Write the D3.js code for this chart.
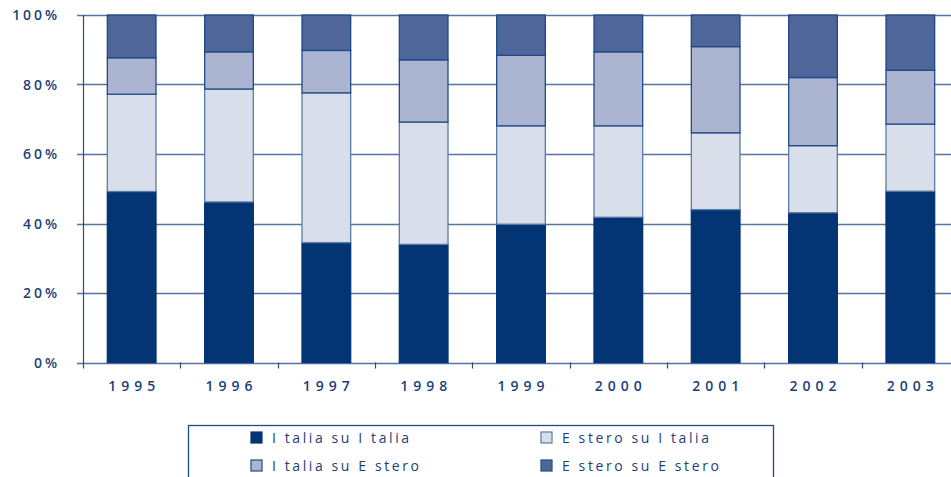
<!DOCTYPE html>
<html>
<head>
<meta charset="utf-8">
<script src="https://cdn.jsdelivr.net/npm/d3@7"></script>
<style>
  html, body { margin: 0; padding: 0; background: #fff; }
  svg { display: block; }
  text { font-family: "Open Sans", "Noto Sans", sans-serif; fill: #1d3f78; }
</style>
</head>
<body>
<svg id="chart" width="951" height="477"></svg>
<script>
// ---- data ----
const years = ["1995", "1996", "1997", "1998", "1999", "2000", "2001", "2002", "2003"];
const seriesNames = ["Italia su Italia", "Estero su Italia", "Italia su Estero", "Estero su Estero"];
const legendLabels = ["I talia su I talia", "E stero su I talia", "I talia su E stero", "E stero su E stero"];
const italiaSuItalia = [49.2, 46.2, 34.5, 34.0, 39.8, 41.8, 44.0, 43.1, 49.3];
const esteroSuItalia = [28.0, 32.5, 43.1, 35.2, 28.3, 26.3, 22.1, 19.3, 19.3];
const italiaSuEstero = [10.5, 10.7, 12.2, 17.9, 20.3, 21.3, 24.8, 19.6, 15.5];
const esteroSuEstero = [12.3, 10.6, 10.2, 12.9, 11.6, 10.6, 9.1, 18.0, 15.9];
const yTicks = [0, 20, 40, 60, 80, 100];
const yTickLabels = ["0%", "20%", "40%", "60%", "80%", "100%"];

const colors = ["#033574", "#d9dfea", "#abb5d2", "#4e6699"];
const strokeColors = ["#033574", "#5b7aa6", "#1f4a87", "#1f4a87"];

const svg = d3.select("#chart");
const x0 = 83, x1 = 959, yTop = 15, yBot = 362.5;

const x = d3.scaleBand().domain(years).range([x0, x1]).paddingInner(0.5).paddingOuter(0.25);
const xEdges = d3.scalePoint().domain(d3.range(years.length + 1)).range([x0, x1]);
const y = d3.scaleLinear().domain([0, 100]).range([yBot, yTop]);

const table = years.map((yr, i) => ({
  year: yr,
  [seriesNames[0]]: italiaSuItalia[i],
  [seriesNames[1]]: esteroSuItalia[i],
  [seriesNames[2]]: italiaSuEstero[i],
  [seriesNames[3]]: esteroSuEstero[i]
}));
const stacked = d3.stack().keys(seriesNames)(table);

// gridlines
svg.append("g").selectAll("line").data(yTicks).join("line")
  .attr("x1", x0 - 6).attr("x2", 951)
  .attr("y1", d => Math.round(y(d)) + 0.5).attr("y2", d => Math.round(y(d)) + 0.5)
  .attr("stroke", "#55749f").attr("stroke-width", 1.3);

// y axis line
svg.append("line").attr("x1", x0 + 0.5).attr("x2", x0 + 0.5)
  .attr("y1", yTop).attr("y2", yBot + 0.5).attr("stroke", "#2a4d83").attr("stroke-width", 1.2);

// x ticks
svg.append("g").selectAll("line").data(d3.range(years.length + 1)).join("line")
  .attr("x1", d => Math.round(xEdges(d)) + 0.5).attr("x2", d => Math.round(xEdges(d)) + 0.5)
  .attr("y1", yBot).attr("y2", yBot + 6).attr("stroke", "#2a4d83").attr("stroke-width", 1.2);

// bars
stacked.forEach((layer, si) => {
  svg.append("g").selectAll("rect").data(layer).join("rect")
    .attr("x", d => x(d.data.year))
    .attr("width", x.bandwidth())
    .attr("y", d => y(d[1]))
    .attr("height", d => y(d[0]) - y(d[1]))
    .attr("fill", colors[si])
    .attr("stroke", strokeColors[si])
    .attr("stroke-width", 1.3);
});

// y tick labels
const yLS = 2.9;
svg.append("g").selectAll("text").data(yTicks).join("text")
  .attr("x", 57 + yLS).attr("y", d => y(d) + 5)
  .attr("text-anchor", "end")
  .style("font-size", "14px").style("font-weight", 600)
  .style("letter-spacing", yLS + "px")
  .text((d, i) => yTickLabels[i]);

// x labels
const xLS = 5;
svg.append("g").selectAll("text").data(years).join("text")
  .attr("x", d => x(d) + x.bandwidth() / 2 + xLS / 2).attr("y", 391)
  .attr("text-anchor", "middle")
  .style("font-size", "14px").style("font-weight", 600)
  .style("letter-spacing", xLS + "px")
  .text(d => d);

// legend
svg.append("rect").attr("x", 188.5).attr("y", 425.5).attr("width", 585).attr("height", 60)
  .attr("fill", "none").attr("stroke", "#1f4a87").attr("stroke-width", 1.3);
const legPos = [[251, 438], [541, 438], [251, 466], [541, 466]];
legendLabels.forEach((lab, i) => {
  const g = svg.append("g");
  g.append("rect").attr("x", legPos[i][0]).attr("y", legPos[i][1] - 6).attr("width", 11).attr("height", 11)
    .attr("fill", colors[i]).attr("stroke", strokeColors[i]).attr("stroke-width", 1.2);
  g.append("text").attr("x", legPos[i][0] + 21).attr("y", legPos[i][1] + 5)
    .style("font-size", "14px").style("font-weight", 500)
    .style("letter-spacing", "2.6px")
    .text(lab);
});
</script>
</body>
</html>
